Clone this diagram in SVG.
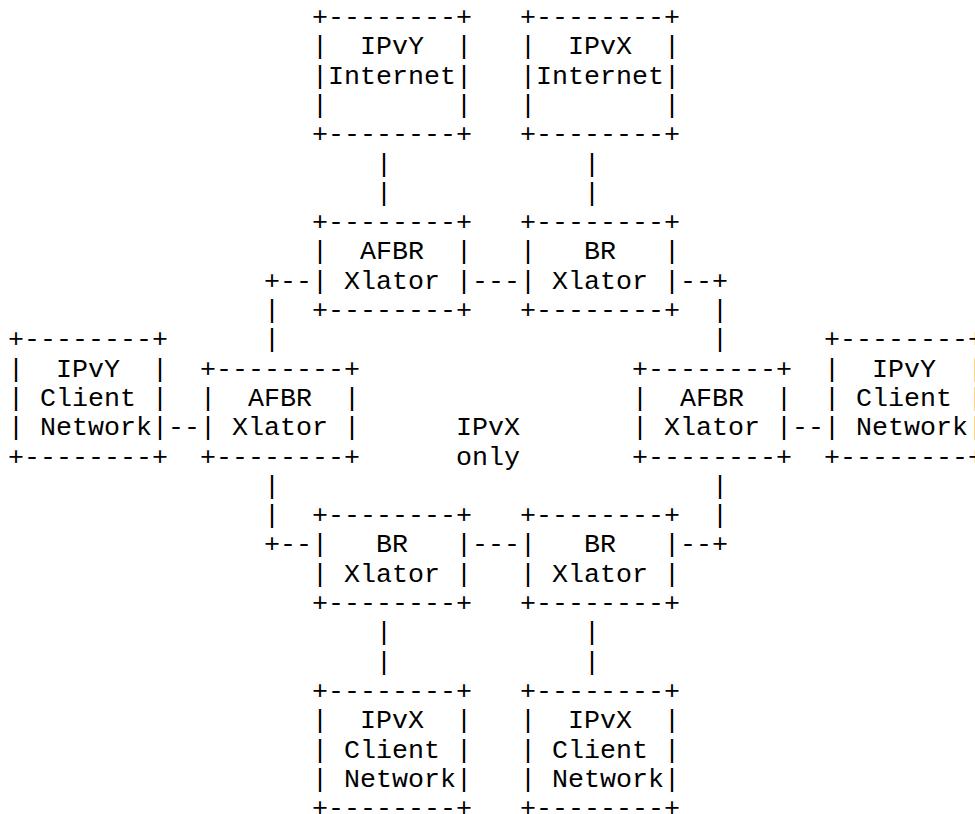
<svg xmlns="http://www.w3.org/2000/svg" width="975" height="814" viewBox="0 0 975 814">
  <style>
    text { font-family: "Liberation Mono", "DejaVu Sans Mono", monospace; font-size: 26.667px; fill: #000; white-space: pre; }
  </style>
  <rect x="0" y="0" width="975" height="814" fill="#fff"/>

  <!-- connectors (column grid: x = 8 + 16*col, baseline y = 25 + 29.3*row) -->
  <g id="connectors" xml:space="preserve">
    <text x="376" y="171.5">|</text><text x="584" y="171.5">|</text>
    <text x="376" y="200.8">|</text><text x="584" y="200.8">|</text>
    <text x="264" y="288.7">+--</text><text x="472" y="288.7">---</text><text x="680" y="288.7">--+</text>
    <text x="264" y="318">|</text><text x="712" y="318">|</text>
    <text x="264" y="347.3">|</text><text x="712" y="347.3">|</text>
    <text x="168" y="435.2">--</text><text x="792" y="435.2">--</text>
    <text x="264" y="493.8">|</text><text x="712" y="493.8">|</text>
    <text x="264" y="523.1">|</text><text x="712" y="523.1">|</text>
    <text x="264" y="552.4">+--</text><text x="472" y="552.4">---</text><text x="680" y="552.4">--+</text>
    <text x="376" y="640.3">|</text><text x="584" y="640.3">|</text>
    <text x="376" y="669.6">|</text><text x="584" y="669.6">|</text>
  </g>

  <!-- upstream internets -->
  <g id="ipvy-internet" xml:space="preserve">
    <text x="312" y="25">+--------+</text>
    <text x="312" y="54.3">|  IPvY  |</text>
    <text x="312" y="83.6">|Internet|</text>
    <text x="312" y="112.9">|        |</text>
    <text x="312" y="142.2">+--------+</text>
  </g>
  <g id="ipvx-internet" xml:space="preserve">
    <text x="520" y="25">+--------+</text>
    <text x="520" y="54.3">|  IPvX  |</text>
    <text x="520" y="83.6">|Internet|</text>
    <text x="520" y="112.9">|        |</text>
    <text x="520" y="142.2">+--------+</text>
  </g>

  <!-- top translators -->
  <g id="afbr-xlator-top" xml:space="preserve">
    <text x="312" y="230.1">+--------+</text>
    <text x="312" y="259.4">|  AFBR  |</text>
    <text x="312" y="288.7">| Xlator |</text>
    <text x="312" y="318">+--------+</text>
  </g>
  <g id="br-xlator-top" xml:space="preserve">
    <text x="520" y="230.1">+--------+</text>
    <text x="520" y="259.4">|   BR   |</text>
    <text x="520" y="288.7">| Xlator |</text>
    <text x="520" y="318">+--------+</text>
  </g>

  <!-- left side -->
  <g id="ipvy-client-left" xml:space="preserve">
    <text x="8" y="347.3">+--------+</text>
    <text x="8" y="376.6">|  IPvY  |</text>
    <text x="8" y="405.9">| Client |</text>
    <text x="8" y="435.2">| Network|</text>
    <text x="8" y="464.5">+--------+</text>
  </g>
  <g id="afbr-xlator-left" xml:space="preserve">
    <text x="200" y="376.6">+--------+</text>
    <text x="200" y="405.9">|  AFBR  |</text>
    <text x="200" y="435.2">| Xlator |</text>
    <text x="200" y="464.5">+--------+</text>
  </g>

  <!-- core region label -->
  <g id="ipvx-only" xml:space="preserve">
    <text x="456" y="435.2">IPvX</text>
    <text x="456" y="464.5">only</text>
  </g>

  <!-- right side -->
  <g id="afbr-xlator-right" xml:space="preserve">
    <text x="632" y="376.6">+--------+</text>
    <text x="632" y="405.9">|  AFBR  |</text>
    <text x="632" y="435.2">| Xlator |</text>
    <text x="632" y="464.5">+--------+</text>
  </g>
  <g id="ipvy-client-right" xml:space="preserve">
    <text x="824" y="347.3">+--------+</text>
    <text x="824" y="376.6">|  IPvY  |</text>
    <text x="824" y="405.9">| Client |</text>
    <text x="824" y="435.2">| Network|</text>
    <text x="824" y="464.5">+--------+</text>
  </g>

  <!-- bottom translators -->
  <g id="br-xlator-bottom-left" xml:space="preserve">
    <text x="312" y="523.1">+--------+</text>
    <text x="312" y="552.4">|   BR   |</text>
    <text x="312" y="581.7">| Xlator |</text>
    <text x="312" y="611">+--------+</text>
  </g>
  <g id="br-xlator-bottom-right" xml:space="preserve">
    <text x="520" y="523.1">+--------+</text>
    <text x="520" y="552.4">|   BR   |</text>
    <text x="520" y="581.7">| Xlator |</text>
    <text x="520" y="611">+--------+</text>
  </g>

  <!-- downstream client networks -->
  <g id="ipvx-client-left" xml:space="preserve">
    <text x="312" y="698.9">+--------+</text>
    <text x="312" y="728.2">|  IPvX  |</text>
    <text x="312" y="757.5">| Client |</text>
    <text x="312" y="786.8">| Network|</text>
    <text x="312" y="816.1">+--------+</text>
  </g>
  <g id="ipvx-client-right" xml:space="preserve">
    <text x="520" y="698.9">+--------+</text>
    <text x="520" y="728.2">|  IPvX  |</text>
    <text x="520" y="757.5">| Client |</text>
    <text x="520" y="786.8">| Network|</text>
    <text x="520" y="816.1">+--------+</text>
  </g>
</svg>
